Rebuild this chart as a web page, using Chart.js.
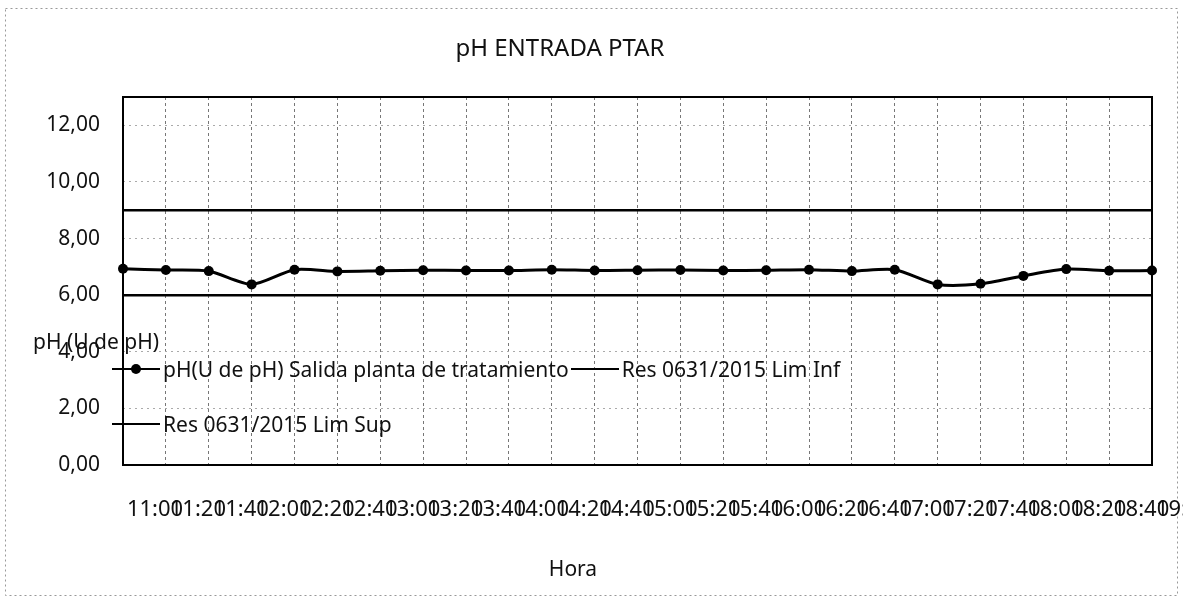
<!DOCTYPE html>
<html>
<head>
<meta charset="utf-8">
<title>pH ENTRADA PTAR</title>
<script src="https://cdn.jsdelivr.net/npm/chart.js@4.4.0/dist/chart.umd.min.js"></script>
<style>
    body { margin: 0; background: #fff; }
    #wrap { position: relative; width: 1183px; height: 600px; }
    #legend {
        position: absolute; left: 112px; top: 341px; width: 780px;
        display: flex; flex-wrap: wrap;
        font: 21px "Noto Sans", sans-serif; color: #111;
    }
    .item { display: flex; align-items: center; height: 55px; margin-right: 2px; white-space: nowrap; }
    .sample { position: relative; width: 48px; height: 2px; background: #000; margin-right: 3px; }
    .dot { position: absolute; left: 19px; top: -4px; width: 10px; height: 10px; border-radius: 50%; background: #000; }
</style>
</head>
<body>
<div id="wrap">
    <canvas id="chart" width="1183" height="600"></canvas>
    <div id="legend"></div>
</div>
<script>
const chartTitle = 'pH ENTRADA PTAR';
const xTitle = 'Hora';
const yTitle = 'pH (U de pH)';

const horas = ['11:00', '11:20', '11:40', '12:00', '12:20', '12:40', '13:00', '13:20', '13:40',
    '14:00', '14:20', '14:40', '15:00', '15:20', '15:40', '16:00', '16:20', '16:40',
    '17:00', '17:20', '17:40', '18:00', '18:20', '18:40', '19:00'];

const phSalida = [6.93, 6.89, 6.85, 6.38, 6.90, 6.84, 6.86, 6.88, 6.87, 6.87, 6.90, 6.87, 6.88,
    6.89, 6.87, 6.88, 6.90, 6.85, 6.90, 6.38, 6.40, 6.68, 6.92, 6.86, 6.87];

const limInf = [6, 6, 6, 6, 6, 6, 6, 6, 6, 6, 6, 6, 6, 6, 6, 6, 6, 6, 6, 6, 6, 6, 6, 6, 6];
const limSup = [9, 9, 9, 9, 9, 9, 9, 9, 9, 9, 9, 9, 9, 9, 9, 9, 9, 9, 9, 9, 9, 9, 9, 9, 9];

const font = { family: 'Noto Sans', size: 21 };
const xFont = { family: 'Noto Sans', size: 22 };

// frame, plot border and the loose texts Excel put in odd places
const extras = {
    id: 'extras',
    beforeDraw(chart) {
        const ctx = chart.ctx;
        ctx.save();
        ctx.strokeStyle = '#999';
        ctx.lineWidth = 1;
        ctx.setLineDash([2, 3]);
        ctx.strokeRect(5.5, 8.5, 1172, 587);
        ctx.restore();
    },
    beforeDatasetsDraw(chart) {
        const { ctx, chartArea: a } = chart;
        ctx.save();
        ctx.strokeStyle = '#000';
        ctx.lineWidth = 2;
        ctx.strokeRect(a.left, a.top, a.right - a.left, a.bottom - a.top);
        ctx.restore();
    },
    afterDraw(chart) {
        const ctx = chart.ctx;
        ctx.save();
        ctx.fillStyle = '#111';
        ctx.textBaseline = 'middle';
        ctx.textAlign = 'center';
        ctx.font = '24px "Noto Sans"';
        ctx.fillText(chartTitle, 560, 49);
        ctx.font = '21px "Noto Sans"';
        ctx.fillText(xTitle, 573, 570);
        ctx.textAlign = 'left';
        ctx.fillText(yTitle, 33, 343);
        ctx.restore();
    }
};

const chart = new Chart(document.getElementById('chart'), {
    type: 'line',
    data: {
        labels: horas,
        datasets: [{
            label: 'pH(U de pH) Salida planta de tratamiento',
            data: phSalida,
            borderColor: '#000',
            backgroundColor: '#000',
            borderWidth: 3,
            pointRadius: 5,
            pointBorderWidth: 0,
            tension: 0.25,
            clip: false
        }, {
            label: 'Res 0631/2015 Lim Inf',
            data: limInf,
            borderColor: '#000',
            borderWidth: 2.5,
            pointRadius: 0
        }, {
            label: 'Res 0631/2015 Lim Sup',
            data: limSup,
            borderColor: '#000',
            borderWidth: 2.5,
            pointRadius: 0
        }]
    },
    options: {
        responsive: false,
        animation: false,
        layout: { padding: { top: 97, right: 31, left: 0, bottom: 0 } },
        plugins: {
            legend: { display: false },
            tooltip: { enabled: false }
        },
        scales: {
            x: {
                grid: { color: '#777', drawTicks: false },
                border: { display: false, dash: [3, 3] },
                ticks: {
                    autoSkip: false, maxRotation: 0, minRotation: 0,
                    padding: 32, labelOffset: 32,
                    color: '#111', font: xFont
                },
                afterFit: s => {
                    s.height = 135;
                    // labels run off the edge in the original, so don't reserve room for them
                    s.paddingLeft = 0;
                    s.paddingRight = 0;
                }
            },
            y: {
                min: 0,
                max: 13,
                grid: { color: '#aaa', drawTicks: false },
                border: { display: false, dash: [2, 4] },
                ticks: {
                    stepSize: 2, padding: 23, color: '#111', font: font,
                    callback: v => v.toFixed(2).replace('.', ',')
                },
                afterBuildTicks: s => { s.ticks = s.ticks.filter(t => t.value % 2 === 0); },
                afterFit: s => { s.width = 123; }
            }
        }
    },
    plugins: [extras]
});

// legend sits inside the plot, like the Excel original
const legend = document.getElementById('legend');
chart.data.datasets.forEach(ds => {
    const item = document.createElement('div');
    item.className = 'item';
    item.innerHTML = `<span class="sample">${ds.pointRadius > 0 ? '<span class="dot"></span>' : ''}</span><span>${ds.label}</span>`;
    legend.appendChild(item);
});
</script>
</body>
</html>
